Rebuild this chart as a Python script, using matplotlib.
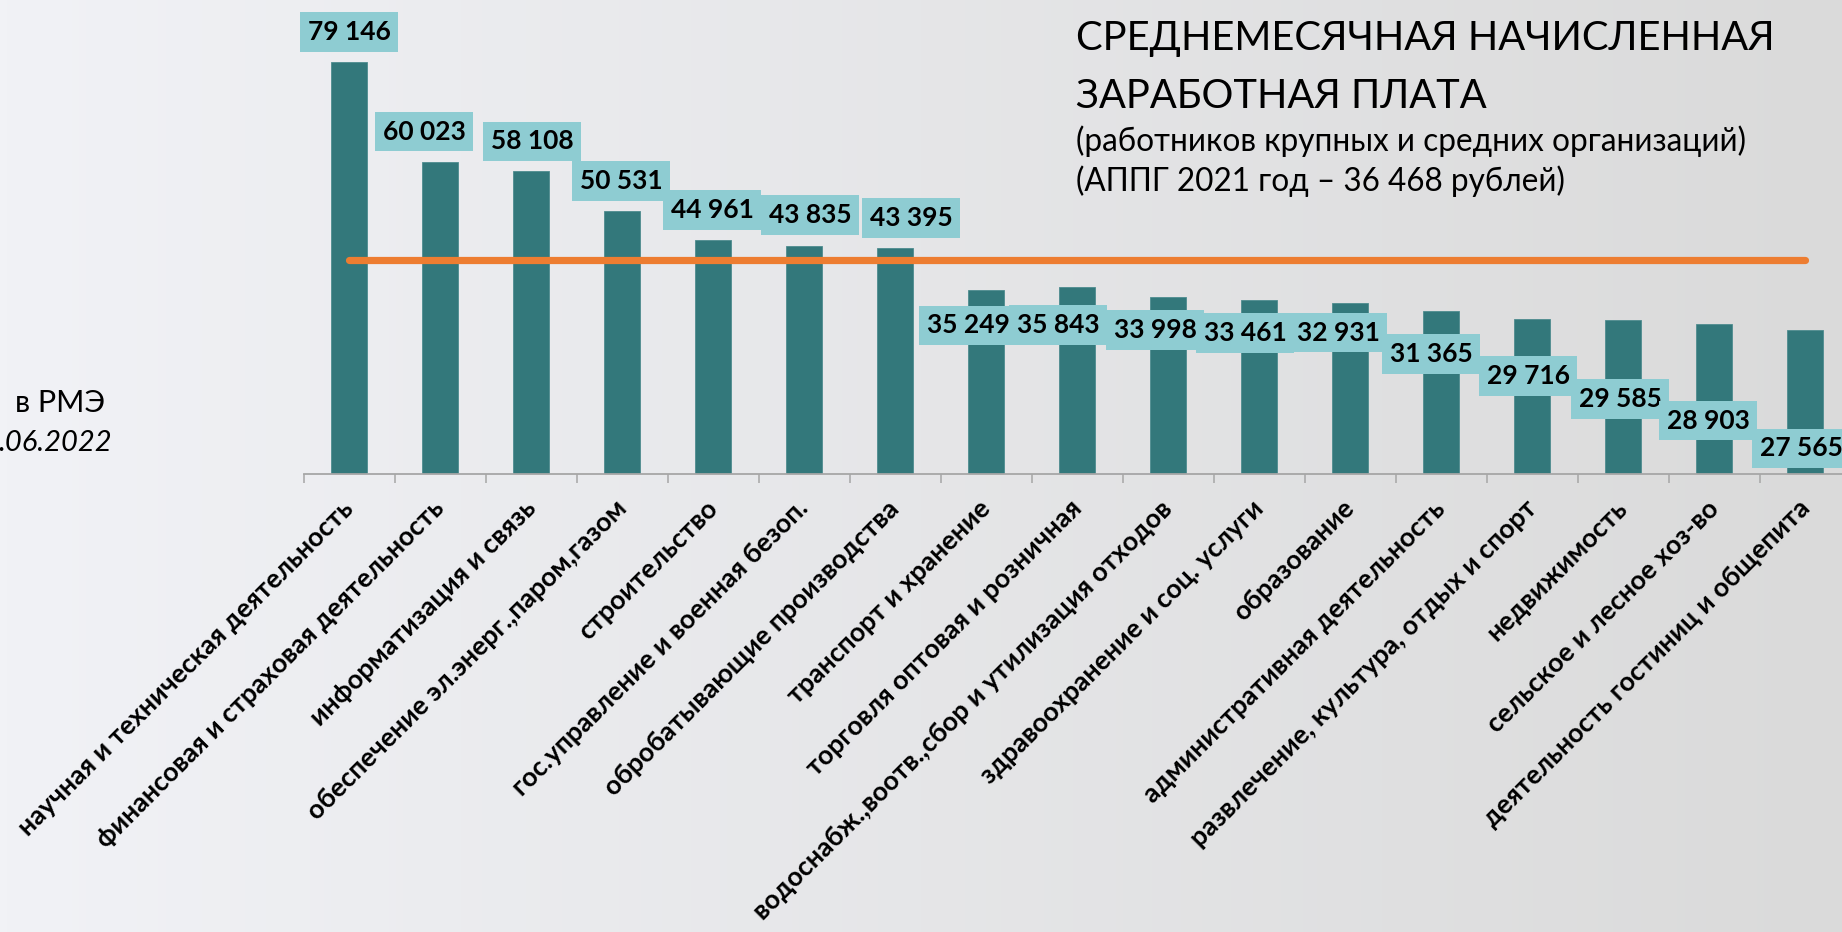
import numpy as np
import matplotlib
matplotlib.use("Agg")
import matplotlib.pyplot as plt
from matplotlib.transforms import offset_copy

# %% data
categories = [
    "научная и техническая деятельность",
    "финансовая и страховая деятельность",
    "информатизация и связь",
    "обеспечение эл.энерг.,паром,газом",
    "строительство",
    "гос.управление и военная безоп.",
    "обробатывающие производства",
    "транспорт и хранение",
    "торговля оптовая и розничная",
    "водоснабж.,воотв.,сбор и утилизация отходов",
    "здравоохранение и соц. услуги",
    "образование",
    "административная деятельность",
    "развлечение, культура, отдых и спорт",
    "недвижимость",
    "сельское и лесное хоз-во",
    "деятельность гостиниц и общепита",
]
salary = [79146, 60023, 58108, 50531, 44961, 43835, 43395, 35249, 35843,
          33998, 33461, 32931, 31365, 29716, 29585, 28903, 27565]
# orange reference line, level as it sits on the picture
ref_line_level = 41100

title_lines = ["СРЕДНЕМЕСЯЧНАЯ НАЧИСЛЕННАЯ", "ЗАРАБОТНАЯ ПЛАТА"]
subtitle_lines = ["(работников крупных и средних организаций)",
                  "(АППГ 2021 год – 36 468 рублей)"]

# label offsets in pixels (dx, dy) from the bar top, as placed on the slide
label_dx = [0, -16, 1, -1, -1, 6, 16, -18, -19, -13, -14, -12, -10, -4, -3, -6, -4]
label_dy = [30, 30, 30, 30, 30, 31, 30, -35, -38, -33, -33, -30, -43, -57, -79, -97, -118]

BAR = "#33787B"
BOX = "#8ECCD2"
ORANGE = "#ED7D31"
FONT = ["Lato", "Open Sans", "DejaVu Sans"]
plt.rcParams["font.family"] = FONT

W, H = 1842, 932
fig = plt.figure(figsize=(W / 100, H / 100), dpi=100)
renderer = fig.canvas.get_renderer()


def text_width(s, **kw):
    t = fig.text(0, 0, s, **kw)
    w = t.get_window_extent(renderer).width
    t.remove()
    return w


# %% background gradient
bg = fig.add_axes([0, 0, 1, 1], zorder=-10)
grad = np.linspace(0, 1, 256)[None, :, None]
left_c = np.array([241, 242, 246]) / 255
right_c = np.array([218, 218, 218]) / 255
bg.imshow(left_c + (right_c - left_c) * grad, aspect="auto", extent=[0, 1, 0, 1])
bg.set_axis_off()

# %% main axes
x0 = 303.5 / W
step = 91.0 / W
ax = fig.add_axes([x0, (H - 474) / H, step * 17, 474 / H])
ax.patch.set_alpha(0)
x = np.arange(len(salary))
ax.bar(x, salary, width=0.4, color=BAR, edgecolor="#4E8C8F", linewidth=0.6, zorder=2)
ax.plot([x[0], x[-1]], [ref_line_level] * 2, color=ORANGE, lw=5.2,
        solid_capstyle="round", zorder=3)
ax.set_xlim(-0.5, len(salary) - 0.5)
ax.set_ylim(0, 91050)

for s in ["top", "right", "left"]:
    ax.spines[s].set_visible(False)
ax.spines["bottom"].set_color("#A6A6A6")
ax.spines["bottom"].set_linewidth(1.3)
ax.set_yticks([])
ax.set_xticks(np.arange(-0.5, len(salary), 1.0))
ax.set_xticklabels([])
ax.tick_params(axis="x", length=6.5, width=1.1, color="#A6A6A6", direction="out")

for i, v in enumerate(salary):
    ax.annotate(f"{v:,}".replace(",", " "), xy=(i, v),
                xytext=(label_dx[i], label_dy[i]), textcoords="offset pixels",
                ha="center", va="center", fontsize=19, fontweight="bold",
                color="black", zorder=5,
                bbox=dict(boxstyle="square,pad=0.3", fc=BOX, ec="none"))

# category labels: size so that the first one is about as long as on the slide
cat_size = 18 * 462 / text_width(categories[0], fontsize=18, fontweight="bold")
lab_tr = offset_copy(ax.transData, fig=fig, x=-8, y=-22, units="dots")
for i, c in enumerate(categories):
    ax.text(i, 0, c, transform=lab_tr, rotation=45, rotation_mode="anchor",
            ha="right", va="top", fontsize=cat_size, fontweight="bold",
            color="black", clip_on=False)

# %% titles
fig.text(1076 / W, 1 - 50 / H, title_lines[0], fontsize=28.7, va="baseline")
fig.text(1076 / W, 1 - 108 / H, title_lines[1], fontsize=28.7, va="baseline")
fig.text(1076 / W, 1 - 151 / H, subtitle_lines[0], fontsize=22.7, va="baseline")
fig.text(1076 / W, 1 - 191 / H, subtitle_lines[1], fontsize=22.7, va="baseline")

fig.text(105 / W, 1 - 412 / H, "в РМЭ", fontsize=22, ha="right", va="baseline")
fig.text(112 / W, 1 - 451 / H, ".06.2022", fontsize=21, ha="right",
         va="baseline", fontstyle="italic")

fig.savefig("out.png", dpi=100)
